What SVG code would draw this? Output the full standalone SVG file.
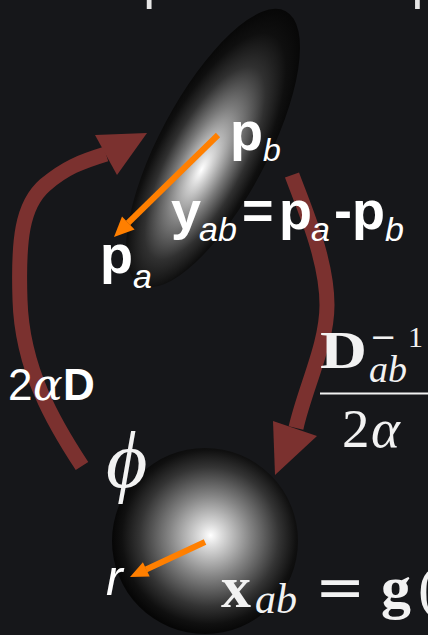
<svg xmlns="http://www.w3.org/2000/svg" width="428" height="635" viewBox="0 0 428 635">
  <defs>
    <radialGradient id="gEll" cx="0.46" cy="0.5" r="0.56" fx="0.42" fy="0.5">
      <stop offset="0" stop-color="#ffffff"/>
      <stop offset="0.12" stop-color="#d4d4d4"/>
      <stop offset="0.38" stop-color="#7a7a7a"/>
      <stop offset="0.62" stop-color="#303030"/>
      <stop offset="0.82" stop-color="#0f0f0f"/>
      <stop offset="1" stop-color="#050505"/>
    </radialGradient>
    <radialGradient id="gSph" cx="0.52" cy="0.48" r="0.52" fx="0.53" fy="0.47">
      <stop offset="0" stop-color="#ffffff"/>
      <stop offset="0.12" stop-color="#dadada"/>
      <stop offset="0.42" stop-color="#848484"/>
      <stop offset="0.72" stop-color="#343434"/>
      <stop offset="0.9" stop-color="#101010"/>
      <stop offset="1" stop-color="#060606"/>
    </radialGradient>
    <style>
      .conn { fill: none; stroke: #7b312f; stroke-width: 15; stroke-linecap: butt; }
      .head { fill: #7b312f; }
      .vec { stroke: #ff7f00; stroke-width: 6; fill: none; }
      .vhead { fill: #ff7f00; }
      .bs { font-family: "Liberation Sans", Arial, sans-serif; font-weight: bold; fill: #ffffff; }
      .is { font-family: "Liberation Sans", Arial, sans-serif; font-style: italic; fill: #ffffff; }
      .rm { font-family: "Liberation Serif", "DejaVu Serif", serif; fill: #f2f2f2; }
      .bf { font-family: "Liberation Serif", "DejaVu Serif", serif; font-weight: bold; fill: #f2f2f2; }
      .it { font-family: "Liberation Serif", "DejaVu Serif", serif; font-style: italic; fill: #f2f2f2; }
      .dj { font-family: "DejaVu Serif", serif; fill: #f2f2f2; }
      .title { font-family: "Liberation Sans", Arial, sans-serif; fill: #e6e6e6; }
    </style>
  </defs>
  <rect x="0" y="0" width="428" height="635" fill="#16171a"/>

  <text class="title" font-size="53" y="-2"><tspan x="33">2.</tspan><tspan x="108">Space is warp</tspan></text>

  <g id="ellipse-node">
    <ellipse cx="0" cy="0" rx="155" ry="54" transform="translate(213,148) rotate(-62)" fill="url(#gEll)"/>
  </g>

  <g id="sphere-node">
    <circle cx="205" cy="541" r="93" fill="url(#gSph)"/>
  </g>

  <g id="connectors">
    <path class="conn" d="M82,466 C55,425 22,370 20,300 C18,240 22,205 45,185 C65,168 80,162 106,154"/>
    <polygon class="head" points="147,133 95,135 117,175"/>
    <path class="conn" d="M292,175 C305,210 327,260 327,305 C327,345 305,388 296,428"/>
    <polygon class="head" points="273,421 317,436 275,475"/>
  </g>

  <g id="vectors">
    <line class="vec" x1="218" y1="135" x2="128" y2="223"/>
    <polygon class="vhead" points="114,237 122,216.5 134.6,229.4"/>
    <line class="vec" x1="205" y1="542" x2="146" y2="569.5"/>
    <polygon class="vhead" points="130,577 142.9,562.2 149.7,576.6"/>
  </g>

  <g id="labels-top">
    <text class="bs" font-size="54" x="230" y="150">p</text>
    <text class="is" font-size="32" x="263" y="161">b</text>

    <text class="bs" font-size="54" x="171" y="229">y</text>
    <text class="is" font-size="34" x="199" y="241">ab</text>
    <text class="bs" font-size="54" x="242" y="229">=</text>
    <text class="bs" font-size="54" x="279" y="229">p</text>
    <text class="is" font-size="34" x="311" y="241">a</text>
    <text class="bs" font-size="54" x="334" y="229">-</text>
    <text class="bs" font-size="54" x="352" y="229">p</text>
    <text class="is" font-size="34" x="385" y="241">b</text>

    <text class="bs" font-size="54" x="100" y="273">p</text>
    <text class="is" font-size="34" x="133" y="288">a</text>
  </g>

  <g id="label-left">
    <text font-size="44" y="400"><tspan x="8" style="font-family:'Liberation Sans',Arial,sans-serif" fill="#ffffff">2</tspan><tspan x="33" style="font-family:'DejaVu Serif',serif;font-style:italic" fill="#ffffff">α</tspan><tspan x="63" style="font-family:'Liberation Sans',Arial,sans-serif;font-weight:bold" fill="#ffffff">D</tspan></text>
  </g>

  <g id="label-right">
    <text class="bf" font-size="53" x="320" y="368" textLength="47" lengthAdjust="spacingAndGlyphs">D</text>
    <text class="dj" font-size="32" x="370" y="348">−</text>
    <text class="rm" font-size="30" x="408" y="347">1</text>
    <text class="it" font-size="38" x="369" y="382">ab</text>
    <rect x="320" y="392.5" width="120" height="2" fill="#f2f2f2"/>
    <text class="rm" font-size="55" x="342" y="447">2</text>
    <text class="it" font-size="55" x="371" y="447">α</text>
  </g>

  <g id="label-bottom">
    <text class="it" font-size="80" x="106" y="487">ϕ</text>
    <text class="is" font-size="50" x="106" y="595">r</text>
    <text class="bf" font-size="60" x="221" y="607">x</text>
    <text class="it" font-size="42" x="255" y="613">ab</text>
    <text class="dj" font-size="60" x="315" y="607">=</text>
    <text class="bf" font-size="60" x="381" y="607">g</text>
    <text class="rm" font-size="60" x="418" y="607">(</text>
  </g>
</svg>
